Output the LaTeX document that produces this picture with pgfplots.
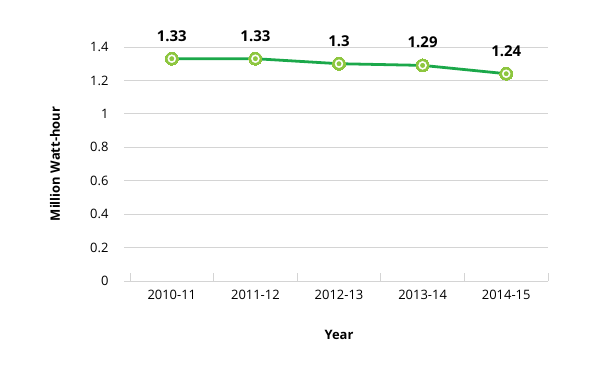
\documentclass[border=0pt]{standalone}
\usepackage{pgfplots}
\pgfplotsset{compat=1.18}
\usepackage{fontspec}
\setmainfont{Open Sans}
\definecolor{linegreen}{HTML}{1BA84A}
\definecolor{markgreen}{HTML}{8DC63F}
\definecolor{gridgray}{HTML}{D4D4D4}
\begin{document}
\begin{tikzpicture}
\useasboundingbox (0,0) rectangle (613bp,365bp);
\begin{axis}[
  at={(130bp,84bp)}, anchor=south west,
  scale only axis, width=418bp, height=234bp,
  xmin=-0.5, xmax=4.5, ymin=0, ymax=1.4,
  axis x line*=bottom, axis y line*=left,
  x axis line style={gridgray, line width=0.8pt},
  y axis line style={draw=none},
  xtick={0,1,2,3,4}, xticklabels={2010-11,2011-12,2012-13,2013-14,2014-15},
  minor xtick={-0.5,0.5,1.5,2.5,3.5,4.5},
  major x tick style={draw=none},
  minor x tick style={gridgray, line width=0.8pt},
  minor tick length=8bp,
  xtick align=inside,
  ytick={0,0.2,0.4,0.6,0.8,1,1.2,1.4},
  yticklabels={0,0.2,0.4,0.6,0.8,1,1.2,1.4},
  ytick align=outside, major tick length=6bp,
  y tick style={gridgray, line width=0.8pt},
  ymajorgrids, grid style={gridgray, line width=0.8pt},
  clip=false,
  tick label style={font=\fontsize{13}{15}\selectfont, text=black},
  xlabel={\textbf{Year}}, ylabel={\textbf{Million Watt-hour}},
  label style={font=\fontsize{13}{15}\selectfont},
  xlabel style={at={(axis description cs:0.5,0)}, anchor=north, yshift=-46bp},
  ylabel style={at={(axis description cs:0,0.5)}, anchor=center, rotate=0, yshift=75bp},
  yticklabel style={xshift=-12bp},
  xticklabel style={yshift=-6bp},
  nodes near coords,
  point meta=explicit symbolic,
]
\addplot[linegreen, line width=2.8pt, mark=*, mark size=6.5bp,
  mark options={fill=markgreen, draw=markgreen, line width=0pt},
  nodes near coords style={font=\fontsize{15}{17}\selectfont\bfseries, text=black, anchor=south, yshift=14bp}]
  coordinates {(0,1.33)[1.33] (1,1.33)[1.33] (2,1.30)[1.3] (3,1.29)[1.29] (4,1.24)[1.24]};
\addplot[only marks, mark=*, mark size=4bp, mark options={fill=white, draw=white}, nodes near coords={}]
  coordinates {(0,1.33) (1,1.33) (2,1.30) (3,1.29) (4,1.24)};
\addplot[only marks, mark=*, mark size=2.2bp, mark options={fill=markgreen, draw=markgreen}, nodes near coords={}]
  coordinates {(0,1.33) (1,1.33) (2,1.30) (3,1.29) (4,1.24)};
\end{axis}
\end{tikzpicture}
\end{document}
